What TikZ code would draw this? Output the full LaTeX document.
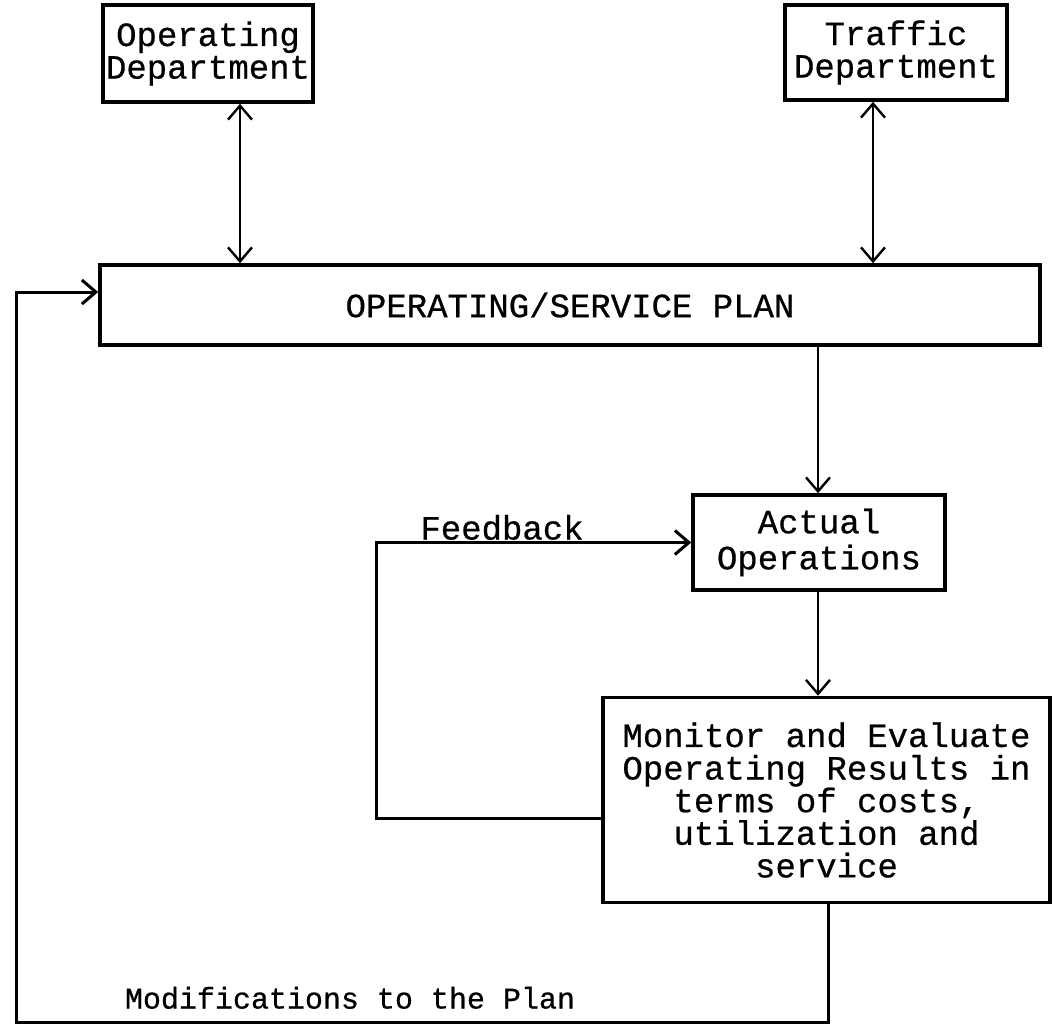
\documentclass[tikz,border=0pt]{standalone}
\usepackage{fontspec}
\newfontfamily\tw[FakeBold=0.6]{Liberation Mono}
\usetikzlibrary{arrows.meta}
\begin{document}
\begin{tikzpicture}[x=0.5pt,y=-0.5pt,
  txt/.style={font=\tw\fontsize{17}{16.3}\selectfont},
  box/.style={txt, draw, line width=1.8pt, inner sep=0pt, align=center},
  conn/.style={line width=1.2pt, -{Straight Barb[length=7pt,width=12pt,line width=1.2pt]}},
  dconn/.style={line width=1.2pt, {Straight Barb[length=7pt,width=12pt,line width=1.2pt]}-{Straight Barb[length=7pt,width=12pt,line width=1.2pt]}},
  loop/.style={line width=1.5pt, -{Straight Barb[length=7pt,width=12pt,line width=1.5pt]}}]
\useasboundingbox (0,0) rectangle (1055,1030);
\node[box, minimum width=105pt, minimum height=48.5pt] (od) at (208,53.5) {Operating\\Department};
\node[box, minimum width=111pt, minimum height=47.5pt] (td) at (896,52.5) {Traffic\\Department};
\node[box, minimum width=470pt, minimum height=40pt] (plan) at (570,305) {OPERATING/SERVICE PLAN};
\node[box, minimum width=126pt, minimum height=47.5pt, font=\tw\fontsize{17}{18}\selectfont] (act) at (819,542.5) {Actual\\Operations};
\node[box, minimum width=223.5pt, minimum height=102.5pt] (mon) at (826.5,800) {Monitor and Evaluate\\Operating Results in\\terms of costs,\\utilization and\\service};
\coordinate (xa) at (240,0);
\coordinate (xb) at (873,0);
\coordinate (xc) at (818,0);
\draw[dconn] (xa |- od.south) -- (xa |- plan.north);
\draw[dconn] (xb |- td.south) -- (xb |- plan.north);
\draw[conn] (xc |- plan.south) -- (xc |- act.north);
\draw[conn] (xc |- act.south) -- (xc |- mon.north);
\coordinate (fbl) at (376,818);
\draw[loop] (mon.west |- fbl) -- (fbl) -- (fbl |- act.west) -- (act.west);
\node[txt, anchor=south] (fb) at (502,547) {Feedback};
\coordinate (mb) at (828,1022);
\coordinate (ml) at (16,1022);
\coordinate (mt) at (16,292);
\draw[loop] (mb |- mon.south) -- (mb) -- (ml) -- (mt) -- (mt -| plan.west);
\node[txt, font=\tw\fontsize{15}{16}\selectfont, anchor=south] (mod) at (350,1016) {Modifications to the Plan};
\end{tikzpicture}
\end{document}
